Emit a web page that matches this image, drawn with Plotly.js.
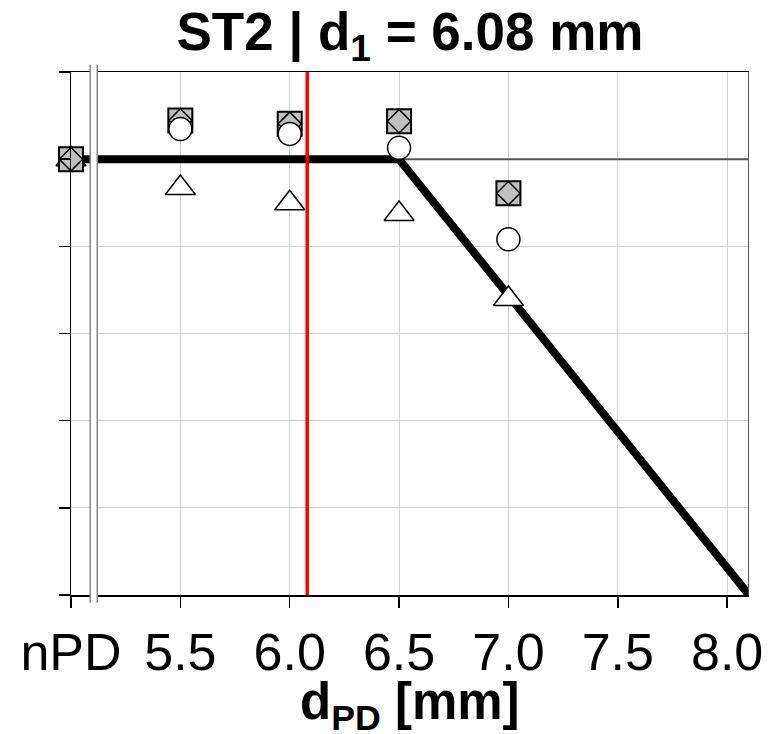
<!DOCTYPE html>
<html>
<head>
<meta charset="utf-8">
<script src="https://cdn.plot.ly/plotly-3.0.1.min.js"></script>
<style>html,body{margin:0;padding:0;background:#fff;}#chart{width:776px;height:734px;}</style>
</head>
<body>
<div id="chart"></div>
<script>
// x positions (5.0 is the "nPD" reference position on the broken axis)
const xPos = [5.0, 5.5, 6.0, 6.5, 7.0];
const tickVals = [5.0, 5.5, 6.0, 6.5, 7.0, 7.5, 8.0];
const tickText = ['nPD', '5.5', '6.0', '6.5', '7.0', '7.5', '8.0'];
// marker series
const squareVals   = [1.00, 1.089, 1.081, 1.087, 0.922];
const diamondVals  = [1.00, 1.089, 1.081, 1.087, 0.922];
const circleVals   = [1.00, 1.069, 1.058, 1.026, 0.816];
const triangleVals = [1.00, 0.934, 0.899, 0.874, 0.679];
// model line
const lineX = [5.0, 6.5, 8.1];
const lineY = [1.0, 1.0, 0.0];
// reference lines
const d1 = 6.08;
const refY = 1.0;
const xRange = [5.0, 8.1];
const yRange = [0, 1.2];
const yTicks = [0, 0.2, 0.4, 0.6, 0.8, 1.0, 1.2];

const gray = '#c0c0c0';
const styles = {
  square:   {symbol: 'square',      size: 24, color: gray,   line: {color: '#000', width: 2}},
  diamond:  {symbol: 'diamond',     size: 18, color: gray,   line: {color: '#000', width: 1.5}},
  circle:   {symbol: 'circle',      size: 23, color: '#fff', line: {color: '#000', width: 1.5}},
  triangle: {symbol: 'triangle-up', size: 26, color: '#fff', line: {color: '#000', width: 1.5}}
};
const series = {square: squareVals, diamond: diamondVals, circle: circleVals, triangle: triangleVals};

function mk(name, idx) {
  return {
    x: idx.map(i => xPos[i]), y: idx.map(i => series[name][i]),
    type: 'scatter', mode: 'markers', marker: styles[name],
    cliponaxis: false, showlegend: false, hoverinfo: 'skip'
  };
}

const traces = [];
traces.push({x: xRange, y: [refY, refY], type: 'scatter', mode: 'lines',
  line: {color: '#555', width: 2}, showlegend: false, hoverinfo: 'skip'});
traces.push({x: lineX, y: lineY, type: 'scatter', mode: 'lines',
  line: {color: '#000', width: 8}, showlegend: false, hoverinfo: 'skip'});
traces.push({x: [d1, d1], y: yRange, type: 'scatter', mode: 'lines',
  line: {color: '#ff0000', width: 3.5}, showlegend: false, hoverinfo: 'skip'});
// nPD point (index 0)
['circle', 'triangle', 'square', 'diamond'].forEach(n => traces.push(mk(n, [0])));
const rest = xPos.map((_, i) => i).slice(1);
['square', 'diamond', 'circle', 'triangle'].forEach(n => traces.push(mk(n, rest)));

const layout = {
  width: 776, height: 734,
  margin: {l: 71, r: 27, t: 72, b: 139},
  paper_bgcolor: '#fff', plot_bgcolor: '#fff',
  font: {family: 'Liberation Sans, Arial, sans-serif', color: '#000'},
  title: {text: '<b>ST2 | d<sub>1</sub> = 6.08 mm</b>', font: {size: 53, color: '#000'},
    x: 0.5, xref: 'paper', xanchor: 'center', y: 0.957, yref: 'container', yanchor: 'middle'},
  xaxis: {range: xRange, tickvals: tickVals, ticktext: tickText,
    tickfont: {size: 52}, ticks: 'outside', ticklen: 11, tickcolor: '#000', tickwidth: 1.5,
    showgrid: true, gridcolor: '#d0d0d0', gridwidth: 1,
    showline: true, linecolor: '#000', linewidth: 1.5, mirror: true, zeroline: false},
  yaxis: {range: yRange, tickvals: yTicks, showticklabels: false,
    ticks: 'outside', ticklen: 11, tickcolor: '#000', tickwidth: 1.5,
    showgrid: true, gridcolor: '#d0d0d0', gridwidth: 1,
    showline: true, linecolor: '#000', linewidth: 1.5, zeroline: false},
  annotations: [
    {text: '<b>d<sub>PD</sub> [mm]</b>', xref: 'paper', yref: 'paper', x: 0.5, y: -0.212,
      xanchor: 'center', yanchor: 'middle', showarrow: false, font: {size: 51, color: '#000'}}
  ],
  shapes: [
    {type: 'line', xref: 'x', yref: 'paper', x0: xRange[1], x1: xRange[1], y0: 0, y1: 1,
      line: {color: '#555', width: 2}, layer: 'above'},
    {type: 'rect', xref: 'x', yref: 'paper', x0: 5.088, x1: 5.12, y0: -0.015, y1: 1.014,
      fillcolor: '#fff', line: {width: 0}, layer: 'above'},
    {type: 'line', xref: 'x', yref: 'paper', x0: 5.088, x1: 5.088, y0: -0.015, y1: 1.014,
      line: {color: '#888', width: 1.5}, layer: 'above'},
    {type: 'line', xref: 'x', yref: 'paper', x0: 5.12, x1: 5.12, y0: -0.015, y1: 1.014,
      line: {color: '#888', width: 1.5}, layer: 'above'}
  ]
};

Plotly.newPlot('chart', traces, layout, {staticPlot: true, displayModeBar: false});
</script>
</body>
</html>
